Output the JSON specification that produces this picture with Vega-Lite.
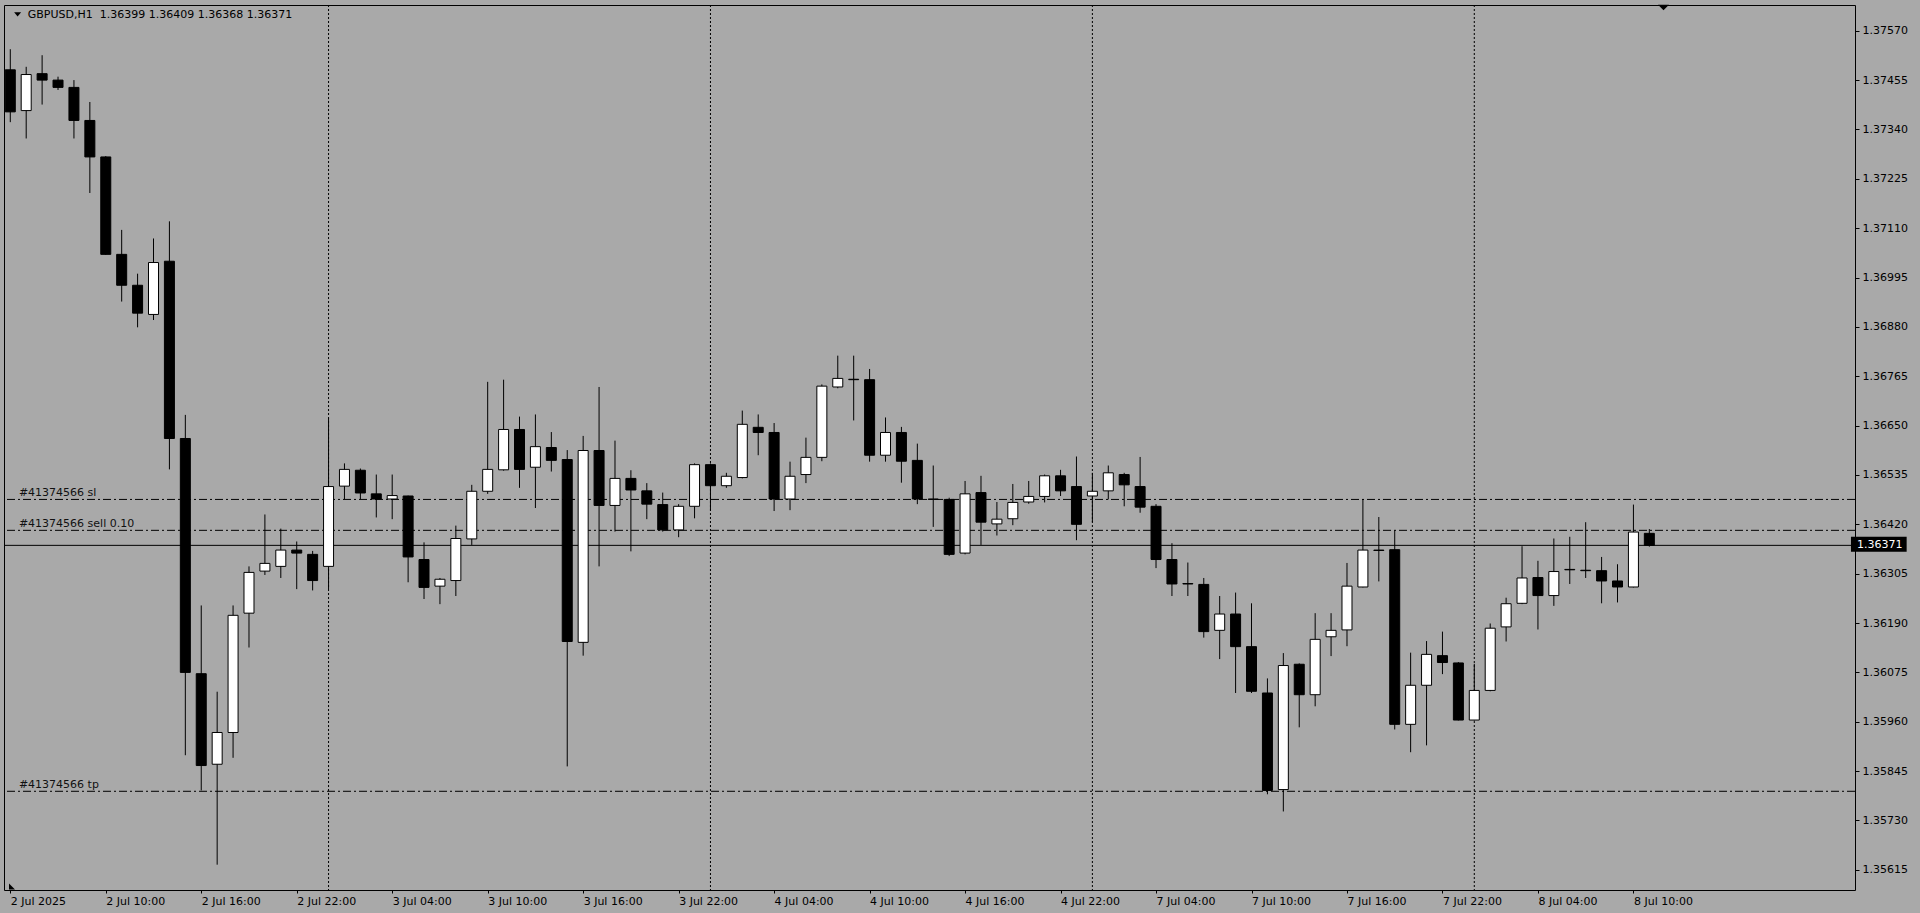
{
  "$schema": "https://vega.github.io/schema/vega-lite/v6.json",
  "width": 1851,
  "height": 885,
  "autosize": {"type": "none"},
  "padding": {"left": 4, "top": 5, "right": 65, "bottom": 23},
  "background": "#A9A9A9",
  "config": {
    "font": "DejaVu Sans",
    "view": {"stroke": "#000000", "strokeWidth": 1, "fill": "#A9A9A9"},
    "axis": {"labelFont": "DejaVu Sans", "labelFontSize": 11, "labelColor": "#000000", "tickColor": "#000000", "tickWidth": 1, "domain": false, "grid": false, "labelOverlap": false, "labelFlush": false, "labelBound": false}
  },
  "datasets": {
    "candles": [
      {"i":0,"o":1.37479,"h":1.37527,"l":1.37357,"c":1.37381},
      {"i":1,"o":1.37384,"h":1.37486,"l":1.37319,"c":1.37468},
      {"i":2,"o":1.37470,"h":1.37513,"l":1.37398,"c":1.37455},
      {"i":3,"o":1.37455,"h":1.37463,"l":1.37432,"c":1.37438},
      {"i":4,"o":1.37438,"h":1.37455,"l":1.37319,"c":1.37361},
      {"i":5,"o":1.37361,"h":1.37404,"l":1.37192,"c":1.37276},
      {"i":6,"o":1.37276,"h":1.37278,"l":1.37048,"c":1.37049},
      {"i":7,"o":1.37049,"h":1.37106,"l":1.36939,"c":1.36977},
      {"i":8,"o":1.36977,"h":1.37004,"l":1.36879,"c":1.36912},
      {"i":9,"o":1.36909,"h":1.37086,"l":1.36896,"c":1.37030},
      {"i":10,"o":1.37033,"h":1.37126,"l":1.36548,"c":1.36620},
      {"i":11,"o":1.36620,"h":1.36675,"l":1.35882,"c":1.36075},
      {"i":12,"o":1.36072,"h":1.36231,"l":1.35800,"c":1.35858},
      {"i":13,"o":1.35861,"h":1.36030,"l":1.35627,"c":1.35935},
      {"i":14,"o":1.35935,"h":1.36231,"l":1.35876,"c":1.36208},
      {"i":15,"o":1.36213,"h":1.36322,"l":1.36133,"c":1.36308},
      {"i":16,"o":1.36311,"h":1.36443,"l":1.36302,"c":1.36329},
      {"i":17,"o":1.36322,"h":1.36410,"l":1.36295,"c":1.36360},
      {"i":18,"o":1.36360,"h":1.36380,"l":1.36269,"c":1.36353},
      {"i":19,"o":1.36350,"h":1.36358,"l":1.36266,"c":1.36289},
      {"i":20,"o":1.36322,"h":1.36668,"l":1.36269,"c":1.36508},
      {"i":21,"o":1.36509,"h":1.36562,"l":1.36478,"c":1.36548},
      {"i":22,"o":1.36546,"h":1.36550,"l":1.36478,"c":1.36493},
      {"i":23,"o":1.36491,"h":1.36536,"l":1.36436,"c":1.36479},
      {"i":24,"o":1.36479,"h":1.36536,"l":1.36432,"c":1.36487},
      {"i":25,"o":1.36486,"h":1.36487,"l":1.36285,"c":1.36344},
      {"i":26,"o":1.36338,"h":1.36378,"l":1.36246,"c":1.36273},
      {"i":27,"o":1.36276,"h":1.36295,"l":1.36234,"c":1.36292},
      {"i":28,"o":1.36289,"h":1.36417,"l":1.36253,"c":1.36387},
      {"i":29,"o":1.36386,"h":1.36512,"l":1.36372,"c":1.36497},
      {"i":30,"o":1.36497,"h":1.36752,"l":1.36491,"c":1.36548},
      {"i":31,"o":1.36547,"h":1.36757,"l":1.36545,"c":1.36641},
      {"i":32,"o":1.36641,"h":1.36671,"l":1.36505,"c":1.36548},
      {"i":33,"o":1.36553,"h":1.36676,"l":1.36458,"c":1.36601},
      {"i":34,"o":1.36599,"h":1.36635,"l":1.36543,"c":1.36569},
      {"i":35,"o":1.36571,"h":1.36593,"l":1.35856,"c":1.36147},
      {"i":36,"o":1.36145,"h":1.36626,"l":1.36114,"c":1.36592},
      {"i":37,"o":1.36592,"h":1.36740,"l":1.36322,"c":1.36464},
      {"i":38,"o":1.36464,"h":1.36615,"l":1.36403,"c":1.36527},
      {"i":39,"o":1.36527,"h":1.36546,"l":1.36357,"c":1.36500},
      {"i":40,"o":1.36498,"h":1.36516,"l":1.36432,"c":1.36467},
      {"i":41,"o":1.36466,"h":1.36494,"l":1.36403,"c":1.36407},
      {"i":42,"o":1.36407,"h":1.36467,"l":1.36390,"c":1.36462},
      {"i":43,"o":1.36462,"h":1.36562,"l":1.36434,"c":1.36559},
      {"i":44,"o":1.36559,"h":1.36562,"l":1.36452,"c":1.36510},
      {"i":45,"o":1.36510,"h":1.36540,"l":1.36505,"c":1.36532},
      {"i":46,"o":1.36529,"h":1.36685,"l":1.36527,"c":1.36653},
      {"i":47,"o":1.36646,"h":1.36676,"l":1.36581,"c":1.36634},
      {"i":48,"o":1.36634,"h":1.36656,"l":1.36451,"c":1.36479},
      {"i":49,"o":1.36479,"h":1.36566,"l":1.36453,"c":1.36532},
      {"i":50,"o":1.36536,"h":1.36622,"l":1.36516,"c":1.36576},
      {"i":51,"o":1.36576,"h":1.36746,"l":1.36567,"c":1.36742},
      {"i":52,"o":1.36740,"h":1.36813,"l":1.36737,"c":1.36760},
      {"i":53,"o":1.36758,"h":1.36813,"l":1.36662,"c":1.36757},
      {"i":54,"o":1.36757,"h":1.36782,"l":1.36566,"c":1.36581},
      {"i":55,"o":1.36581,"h":1.36669,"l":1.36566,"c":1.36634},
      {"i":56,"o":1.36634,"h":1.36647,"l":1.36517,"c":1.36567},
      {"i":57,"o":1.36569,"h":1.36608,"l":1.36467,"c":1.36479},
      {"i":58,"o":1.36479,"h":1.36557,"l":1.36414,"c":1.36478},
      {"i":59,"o":1.36478,"h":1.36482,"l":1.36346,"c":1.36350},
      {"i":60,"o":1.36353,"h":1.36521,"l":1.36350,"c":1.36491},
      {"i":61,"o":1.36494,"h":1.36533,"l":1.36372,"c":1.36425},
      {"i":62,"o":1.36421,"h":1.36472,"l":1.36394,"c":1.36432},
      {"i":63,"o":1.36433,"h":1.36514,"l":1.36418,"c":1.36471},
      {"i":64,"o":1.36472,"h":1.36521,"l":1.36468,"c":1.36485},
      {"i":65,"o":1.36485,"h":1.36536,"l":1.36471,"c":1.36533},
      {"i":66,"o":1.36533,"h":1.36547,"l":1.36486,"c":1.36498},
      {"i":67,"o":1.36508,"h":1.36578,"l":1.36383,"c":1.36420},
      {"i":68,"o":1.36486,"h":1.36540,"l":1.36425,"c":1.36497},
      {"i":69,"o":1.36498,"h":1.36557,"l":1.36478,"c":1.36540},
      {"i":70,"o":1.36536,"h":1.36540,"l":1.36462,"c":1.36512},
      {"i":71,"o":1.36508,"h":1.36577,"l":1.36447,"c":1.36460},
      {"i":72,"o":1.36462,"h":1.36467,"l":1.36318,"c":1.36338},
      {"i":73,"o":1.36338,"h":1.36376,"l":1.36253,"c":1.36281},
      {"i":74,"o":1.36282,"h":1.36331,"l":1.36253,"c":1.36281},
      {"i":75,"o":1.36280,"h":1.36295,"l":1.36156,"c":1.36170},
      {"i":76,"o":1.36173,"h":1.36253,"l":1.36106,"c":1.36211},
      {"i":77,"o":1.36211,"h":1.36261,"l":1.36027,"c":1.36135},
      {"i":78,"o":1.36135,"h":1.36236,"l":1.36027,"c":1.36031},
      {"i":79,"o":1.36027,"h":1.36061,"l":1.35791,"c":1.35800},
      {"i":80,"o":1.35802,"h":1.36120,"l":1.35751,"c":1.36091},
      {"i":81,"o":1.36094,"h":1.36096,"l":1.35947,"c":1.36023},
      {"i":82,"o":1.36023,"h":1.36213,"l":1.35996,"c":1.36152},
      {"i":83,"o":1.36158,"h":1.36213,"l":1.36113,"c":1.36173},
      {"i":84,"o":1.36174,"h":1.36330,"l":1.36136,"c":1.36276},
      {"i":85,"o":1.36274,"h":1.36479,"l":1.36273,"c":1.36360},
      {"i":86,"o":1.36360,"h":1.36437,"l":1.36287,"c":1.36359},
      {"i":87,"o":1.36361,"h":1.36406,"l":1.35942,"c":1.35954},
      {"i":88,"o":1.35954,"h":1.36121,"l":1.35889,"c":1.36045},
      {"i":89,"o":1.36045,"h":1.36148,"l":1.35905,"c":1.36117},
      {"i":90,"o":1.36114,"h":1.36170,"l":1.36071,"c":1.36098},
      {"i":91,"o":1.36097,"h":1.36099,"l":1.35963,"c":1.35964},
      {"i":92,"o":1.35964,"h":1.36095,"l":1.35963,"c":1.36033},
      {"i":93,"o":1.36033,"h":1.36189,"l":1.36031,"c":1.36178},
      {"i":94,"o":1.36181,"h":1.36249,"l":1.36147,"c":1.36235},
      {"i":95,"o":1.36236,"h":1.36369,"l":1.36234,"c":1.36295},
      {"i":96,"o":1.36296,"h":1.36335,"l":1.36175,"c":1.36254},
      {"i":97,"o":1.36254,"h":1.36387,"l":1.36230,"c":1.36310},
      {"i":98,"o":1.36315,"h":1.36391,"l":1.36281,"c":1.36314},
      {"i":99,"o":1.36313,"h":1.36425,"l":1.36295,"c":1.36312},
      {"i":100,"o":1.36312,"h":1.36344,"l":1.36236,"c":1.36288},
      {"i":101,"o":1.36288,"h":1.36327,"l":1.36238,"c":1.36274},
      {"i":102,"o":1.36274,"h":1.36466,"l":1.36273,"c":1.36402},
      {"i":103,"o":1.36399,"h":1.36409,"l":1.36368,"c":1.36371}
    ],
    "seps": [{"i":20},{"i":44},{"i":68},{"i":92}],
    "levels": [
      {"name":"sl","price":1.36478,"label":"#41374566 sl"},
      {"name":"sell","price":1.36406,"label":"#41374566 sell 0.10"},
      {"name":"tp","price":1.35798,"label":"#41374566 tp"}
    ],
    "bid": [{"price":1.36371,"label":"1.36371"}],
    "header": [{"label":"GBPUSD,H1\u00a0\u00a01.36399 1.36409 1.36368 1.36371"}]
  },
  "layer": [
    {
      "data": {"name": "seps"},
      "mark": {"type": "rule", "color": "#000000", "strokeWidth": 1, "strokeDash": [2, 2]},
      "encoding": {
        "x": {"field": "i", "type": "quantitative", "title": null, "scale": {"domain": [-0.081, 115.61], "nice": false, "zero": false}}
      }
    },
    {
      "data": {"name": "levels"},
      "mark": {"type": "rule", "color": "#000000", "strokeWidth": 1, "strokeDash": [8, 3, 2, 3]},
      "encoding": {
        "y": {"field": "price", "type": "quantitative", "title": null, "scale": {"domain": [1.35568, 1.37630], "nice": false, "zero": false}}
      }
    },
    {
      "data": {"name": "bid"},
      "mark": {"type": "rule", "color": "#000000", "strokeWidth": 1},
      "encoding": {
        "y": {"field": "price", "type": "quantitative", "title": null, "scale": {"domain": [1.35568, 1.37630], "nice": false, "zero": false}}
      }
    },
    {
      "data": {"name": "candles"},
      "mark": {"type": "rule", "color": "#000000", "strokeWidth": 1, "clip": true},
      "encoding": {
        "x": {"field": "i", "type": "quantitative", "title": null,
              "scale": {"domain": [-0.081, 115.61], "nice": false, "zero": false},
              "axis": {"values": [0,6,12,18,24,30,36,42,48,54,60,66,72,78,84,90,96,102],
                       "labelExpr": "['2 Jul 2025','2 Jul 10:00','2 Jul 16:00','2 Jul 22:00','3 Jul 04:00','3 Jul 10:00','3 Jul 16:00','3 Jul 22:00','4 Jul 04:00','4 Jul 10:00','4 Jul 16:00','4 Jul 22:00','7 Jul 04:00','7 Jul 10:00','7 Jul 16:00','7 Jul 22:00','8 Jul 04:00','8 Jul 10:00'][round(datum.value/6)]",
                       "labelAlign": "left", "labelDx": -1, "labelBaseline": "top", "tickSize": 3, "labelPadding": 2}},
        "y": {"field": "l", "type": "quantitative", "title": null,
              "scale": {"domain": [1.35568, 1.37630], "nice": false, "zero": false},
              "axis": {"orient": "right",
                       "values": [1.37570,1.37455,1.37340,1.37225,1.37110,1.36995,1.36880,1.36765,1.36650,1.36535,1.36420,1.36305,1.36190,1.36075,1.35960,1.35845,1.35730,1.35615],
                       "format": ".5f", "tickSize": 4, "labelPadding": 3, "labelBaseline": "middle"}},
        "y2": {"field": "h"}
      }
    },
    {
      "data": {"name": "candles"},
      "mark": {"type": "bar", "width": 10, "stroke": "#000000", "strokeWidth": 1, "clip": true},
      "encoding": {
        "x": {"field": "i", "type": "quantitative", "title": null, "scale": {"domain": [-0.081, 115.61], "nice": false, "zero": false}},
        "y": {"field": "o", "type": "quantitative", "title": null, "scale": {"domain": [1.35568, 1.37630], "nice": false, "zero": false}},
        "y2": {"field": "c"},
        "fill": {"condition": {"test": "datum.c >= datum.o", "value": "#FFFFFF"}, "value": "#000000"}
      }
    },
    {
      "data": {"name": "levels"},
      "mark": {"type": "text", "align": "left", "baseline": "alphabetic", "dy": -3, "fontSize": 11, "font": "DejaVu Sans", "color": "#111111"},
      "encoding": {
        "x": {"datum": 0.54, "type": "quantitative", "title": null, "scale": {"domain": [-0.081, 115.61], "nice": false, "zero": false}},
        "y": {"field": "price", "type": "quantitative", "title": null, "scale": {"domain": [1.35568, 1.37630], "nice": false, "zero": false}},
        "text": {"field": "label"}
      }
    },
    {
      "data": {"name": "header"},
      "mark": {"type": "text", "align": "left", "baseline": "middle", "fontSize": 11, "font": "DejaVu Sans", "color": "#000000"},
      "encoding": {
        "x": {"datum": 1.1, "type": "quantitative", "title": null, "scale": {"domain": [-0.081, 115.61], "nice": false, "zero": false}},
        "y": {"datum": 1.37607, "type": "quantitative", "title": null, "scale": {"domain": [1.35568, 1.37630], "nice": false, "zero": false}},
        "text": {"field": "label"}
      }
    },
    {
      "data": {"name": "header"},
      "mark": {"type": "point", "shape": "M-1,-0.6L1,-0.6L0,0.6Z", "size": 49, "filled": true, "color": "#000000", "opacity": 1},
      "encoding": {
        "x": {"datum": 0.46, "type": "quantitative", "title": null, "scale": {"domain": [-0.081, 115.61], "nice": false, "zero": false}},
        "y": {"datum": 1.37608, "type": "quantitative", "title": null, "scale": {"domain": [1.35568, 1.37630], "nice": false, "zero": false}}
      }
    },
    {
      "data": {"name": "bid"},
      "mark": {"type": "point", "shape": "M-1,-0.5L1,-0.5L0,0.5Z", "size": 121, "filled": true, "color": "#000000", "opacity": 1},
      "encoding": {
        "x": {"datum": 103.89, "type": "quantitative", "title": null, "scale": {"domain": [-0.081, 115.61], "nice": false, "zero": false}},
        "y": {"datum": 1.37624, "type": "quantitative", "title": null, "scale": {"domain": [1.35568, 1.37630], "nice": false, "zero": false}}
      }
    },
    {
      "data": {"name": "bid"},
      "mark": {"type": "point", "shape": "M-1,-1L-1,1L1,1Z", "size": 36, "filled": true, "color": "#000000", "opacity": 1},
      "encoding": {
        "x": {"datum": 0.106, "type": "quantitative", "title": null, "scale": {"domain": [-0.081, 115.61], "nice": false, "zero": false}},
        "y": {"datum": 1.35576, "type": "quantitative", "title": null, "scale": {"domain": [1.35568, 1.37630], "nice": false, "zero": false}}
      }
    },
    {
      "data": {"name": "bid"},
      "mark": {"type": "rect", "color": "#000000", "opacity": 1},
      "encoding": {
        "x": {"datum": 115.67, "type": "quantitative", "title": null, "scale": {"domain": [-0.081, 115.61], "nice": false, "zero": false}},
        "x2": {"datum": 119.17},
        "y": {"datum": 1.36391, "type": "quantitative", "title": null, "scale": {"domain": [1.35568, 1.37630], "nice": false, "zero": false}},
        "y2": {"datum": 1.36356}
      }
    },
    {
      "data": {"name": "bid"},
      "mark": {"type": "text", "align": "left", "baseline": "middle", "fontSize": 11, "font": "DejaVu Sans", "color": "#FFFFFF"},
      "encoding": {
        "x": {"datum": 116.05, "type": "quantitative", "title": null, "scale": {"domain": [-0.081, 115.61], "nice": false, "zero": false}},
        "y": {"field": "price", "type": "quantitative", "title": null, "scale": {"domain": [1.35568, 1.37630], "nice": false, "zero": false}},
        "text": {"field": "label"}
      }
    }
  ]
}
